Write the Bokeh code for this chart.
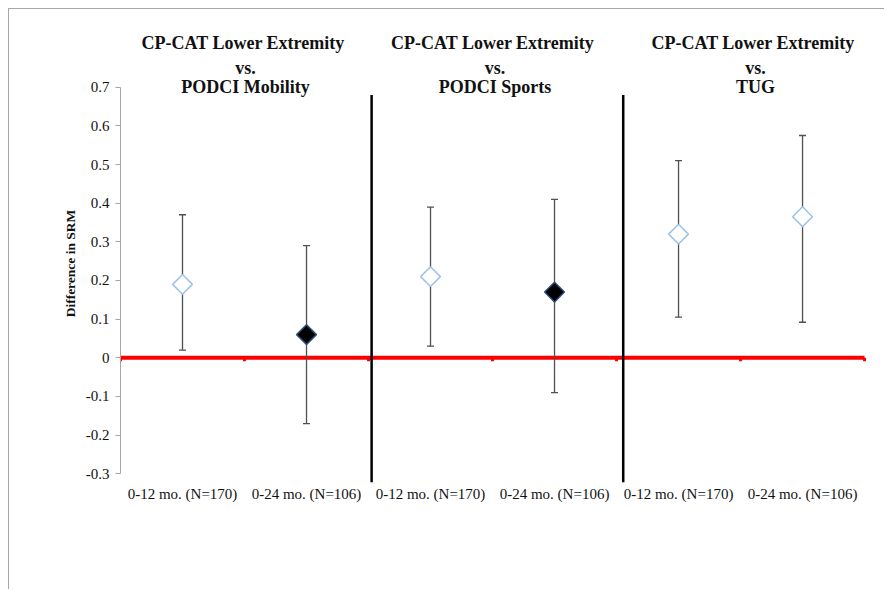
from bokeh.plotting import figure
from bokeh.models import Range1d, FixedTicker, ColumnDataSource
from bokeh.core.properties import value
from bokeh.embed import file_html
from bokeh.resources import INLINE

# ---------------- data ----------------
comparisons = [
    ["CP-CAT  Lower Extremity", "vs.", "PODCI Mobility"],
    ["CP-CAT  Lower Extremity", "vs.", "PODCI Sports"],
    ["CP-CAT  Lower Extremity", "vs.", "TUG"],
]
periods = ["0-12 mo. (N=170)", "0-24 mo. (N=106)",
           "0-12 mo. (N=170)", "0-24 mo. (N=106)",
           "0-12 mo. (N=170)", "0-24 mo. (N=106)"]
srm_diff = [0.19, 0.06, 0.21, 0.17, 0.32, 0.365]
ci_lower = [0.02, -0.17, 0.03, -0.09, 0.105, 0.092]
ci_upper = [0.37, 0.29, 0.39, 0.41, 0.51, 0.575]
filled = [False, True, False, True, False, False]
y_ticks = [-0.3, -0.2, -0.1, 0, 0.1, 0.2, 0.3, 0.4, 0.5, 0.6, 0.7]
y_tick_labels = ["-0.3", "-0.2", "-0.1", "0", "0.1", "0.2", "0.3", "0.4", "0.5", "0.6", "0.7"]

# ---------------- layout ----------------
n = len(periods)
xs = [i + 0.5 for i in range(n)]
SERIF = value("Liberation Serif")

p = figure(width=876, height=581, output_backend="svg", toolbar_location=None,
           x_range=Range1d(0, 6.169), y_range=Range1d(-0.3846, 0.8725),
           min_border_left=111, min_border_right=0, min_border_top=11,
           min_border_bottom=84)
p.styles = {"margin-left": "8px", "margin-top": "8px",
            "border-left": "1px solid #a6a6a6", "border-top": "1px solid #a6a6a6"}
p.xaxis.visible = False
p.xgrid.visible = False
p.ygrid.visible = False
p.outline_line_color = None
p.background_fill_color = "white"
p.border_fill_color = "white"

ya = p.yaxis[0]
ya.ticker = FixedTicker(ticks=y_ticks)
ya.major_label_overrides = {t: l for t, l in zip(y_ticks, y_tick_labels)}
ya.bounds = (y_ticks[0], y_ticks[-1])
ya.minor_tick_line_color = None
ya.major_tick_in = 0
ya.major_tick_out = 5
ya.axis_line_color = "#a6a6a6"
ya.major_tick_line_color = "#a6a6a6"
ya.major_label_text_font = "Liberation Serif"
ya.major_label_text_font_size = "15px"
ya.major_label_text_color = "#111111"
ya.major_label_standoff = 6
ya.axis_label = "Difference in SRM"
ya.axis_label_text_font = "Liberation Serif"
ya.axis_label_text_font_style = "bold"
ya.axis_label_text_font_size = "13.5px"
ya.axis_label_text_color = "#111111"
ya.axis_label_standoff = 5

# zero line (red) with boundary ticks
p.segment(x0=[0], x1=[n], y0=[0], y1=[0], line_color="#ff0000", line_width=4)
p.segment(x0=list(range(n + 1)), x1=list(range(n + 1)), y0=[0] * (n + 1),
          y1=[-0.009] * (n + 1), line_color="#ff0000", line_width=3)

# group dividers
p.segment(x0=[2.025, 4.054], x1=[2.025, 4.054], y0=[0.68, 0.68],
          y1=[-0.322, -0.322], line_color="black", line_width=2.5)

# error bars
src = ColumnDataSource(dict(x=xs, y=srm_diff, lo=ci_lower, hi=ci_upper,
                            fill=["black" if f else "white" for f in filled],
                            line=["#2a4d7a" if f else "#9dc3e6" for f in filled]))
p.segment(x0="x", x1="x", y0="lo", y1="hi", source=src, line_color="#505050", line_width=1.3)
p.scatter(x="x", y="hi", source=src, marker="dash", size=7, line_color="#505050", line_width=1.3)
p.scatter(x="x", y="lo", source=src, marker="dash", size=7, line_color="#505050", line_width=1.3)

# points (diamonds)
p.scatter(x="x", y="y", source=src, marker="square", angle=0.785398, size=14,
          fill_color="fill", line_color="line", line_width=1.5)

# category labels
p.text(x=xs, y=[-0.351] * n, text=periods, text_font=SERIF, text_font_size="15px",
       text_align="center", text_baseline="middle", text_color="#111111")

# group titles
title_x = [1.008, 3.02, 5.12]
line_y = [0.8135, 0.749, 0.6995]
for gx, lines in zip(title_x, comparisons):
    p.text(x=[gx] * 3, y=line_y, text=lines, text_font=SERIF, text_font_size="18px",
           text_font_style="bold", text_align="center", text_baseline="alphabetic",
           text_color="#111111")

open("out.html", "w").write(file_html(p, INLINE))
